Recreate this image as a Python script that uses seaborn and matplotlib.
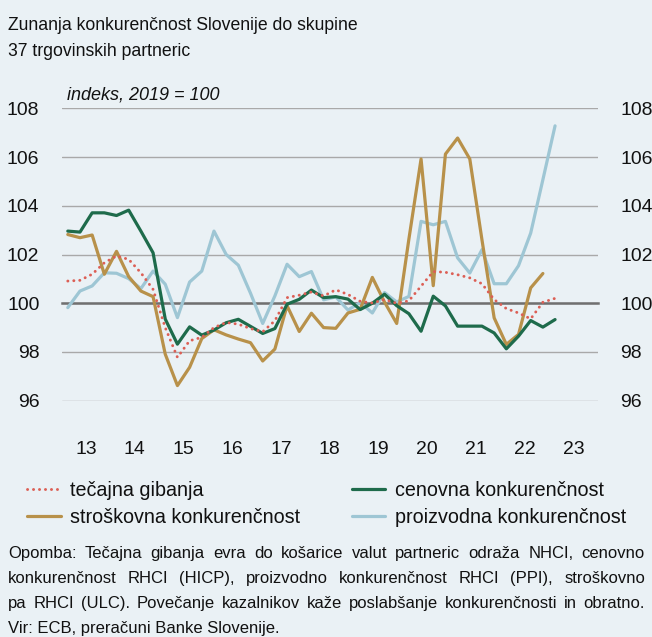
import numpy as np
import pandas as pd
import matplotlib
matplotlib.use("Agg")
import matplotlib.pyplot as plt
import matplotlib.font_manager as fm
import seaborn as sns

# ---------------- data (quarterly, 2013Q1 .. 2023Q1) ----------------
quarters = pd.period_range("2013Q1", "2023Q1", freq="Q")

tecajna = [100.91, 100.94, 101.19, 101.66,
           101.94, 101.80, 101.25, 100.57,
           99.00, 97.78, 98.46, 98.60,
           99.00, 99.21, 99.14, 98.96,
           98.83, 99.28, 100.23, 100.33,
           100.46, 100.30, 100.55, 100.36,
           100.08, 100.01, 100.15, 100.00,
           100.10, 100.70, 101.30, 101.27,
           101.17, 101.04, 100.80, 100.15,
           99.78, 99.60, 99.36, 100.04,
           100.20]

cenovna = [102.96, 102.92, 103.71, 103.71,
           103.60, 103.82, 102.96, 102.07,
           99.35, 98.32, 99.03, 98.69,
           98.90, 99.20, 99.34, 99.05,
           98.76, 98.96, 99.96, 100.16,
           100.54, 100.23, 100.27, 100.17,
           99.74, 100.00, 100.37, 99.90,
           99.57, 98.85, 100.29, 99.89,
           99.06, 99.06, 99.06, 98.78,
           98.13, 98.65, 99.29, 99.02,
           99.33]

stroskovna = [102.82, 102.69, 102.80, 101.19,
              102.13, 101.09, 100.50, 100.27,
              97.91, 96.62, 97.37, 98.55,
              98.91, 98.70, 98.53, 98.38,
              97.63, 98.12, 99.90, 98.84,
              99.59, 99.00, 98.97, 99.60,
              99.75, 101.06, 100.05, 99.17,
              102.63, 105.92, 100.72, 106.12,
              106.78, 105.92, 102.60, 99.40,
              98.31, 98.72, 100.63, 101.22,
              np.nan]

proizvodna = [99.82, 100.50, 100.71, 101.25,
              101.23, 101.01, 100.60, 101.32,
              100.78, 99.41, 100.87, 101.32,
              102.96, 102.00, 101.56, 100.41,
              99.17, 100.30, 101.60, 101.09,
              101.30, 100.14, 100.26, 99.72,
              100.03, 99.60, 100.44, 100.05,
              100.28, 103.36, 103.22, 103.36,
              101.86, 101.24, 102.20, 100.80,
              100.80, 101.54, 102.88, 105.07,
              107.28]

labels = ["tečajna gibanja", "stroškovna konkurenčnost",
          "cenovna konkurenčnost", "proizvodna konkurenčnost"]
year_labels = ["13", "14", "15", "16", "17", "18", "19", "20", "21", "22", "23"]
y_ticks = [96, 98, 100, 102, 104, 106, 108]

title_lines = ["Zunanja konkurenčnost Slovenije do skupine",
               "37 trgovinskih partneric"]
unit_text = "indeks, 2019 = 100"
note_lines = [
    "Opomba: Tečajna gibanja evra do košarice valut partneric odraža NHCI, cenovno",
    "konkurenčnost RHCI (HICP), proizvodno konkurenčnost RHCI (PPI), stroškovno",
    "pa RHCI (ULC). Povečanje kazalnikov kaže poslabšanje konkurenčnosti in obratno.",
    "Vir: ECB, preračuni Banke Slovenije.",
]

# ---------------- style ----------------
BG = "#EAF1F5"
C_RED = "#DC5F55"
C_GREEN = "#1E6B4B"
C_GOLD = "#B8914A"
C_BLUE = "#9EC6D4"
TXT = "#111111"

sns.set_style("white")
names = {f.name for f in fm.fontManager.ttflist}
if "Liberation Sans Narrow" in names:
    FONT = "Liberation Sans Narrow"
    S = 1.0
else:
    FONT = "Liberation Sans"
    S = 0.82
plt.rcParams["font.family"] = [FONT, "DejaVu Sans"]

W, H = 652, 637
fig = plt.figure(figsize=(W / 100, H / 100), dpi=100, facecolor=BG)

def fx(px):
    return px / W

def fy(py):
    return 1 - py / H

ax_l, ax_r, ax_t, ax_b = 61.7, 597.7, 108.3, 400.7
ax = fig.add_axes([fx(ax_l), fy(ax_b), fx(ax_r - ax_l), (ax_b - ax_t) / H])
ax.set_facecolor(BG)

df = pd.DataFrame({
    "kvartal": quarters,
    "tecajna": tecajna,
    "cenovna": cenovna,
    "stroskovna": stroskovna,
    "proizvodna": proizvodna,
})
df["t"] = df["kvartal"].dt.year + (df["kvartal"].dt.quarter - 0.5) / 4

series = [
    ("proizvodna", "proizvodna konkurenčnost", C_BLUE, "-"),
    ("stroskovna", "stroškovna konkurenčnost", C_GOLD, "-"),
    ("cenovna", "cenovna konkurenčnost", C_GREEN, "-"),
    ("tecajna", "tečajna gibanja", C_RED, ":"),
]
for col, lab, colr, ls in series:
    d = df[["t", col]].dropna()
    if ls == ":":
        sns.lineplot(data=d, x="t", y=col, ax=ax, color=colr, linewidth=2.1,
                     linestyle=(0, (0.05, 2.0)), dash_capstyle="round",
                     label=lab, zorder=5)
    else:
        sns.lineplot(data=d, x="t", y=col, ax=ax, color=colr, linewidth=2.3,
                     label=lab, zorder=4)

ax.set_xlim(2013, 2024)
ax.set_ylim(96, 108)
ax.set_xlabel("")
ax.set_ylabel("")

# y axis: labels left, grid
ax.set_yticks(y_ticks)
ax.set_yticklabels([str(v) for v in y_ticks])
ax.tick_params(axis="y", length=0, labelleft=True, labelright=False,
               labelsize=17 * S, pad=16, colors=TXT)
ax.yaxis.grid(True, color="#A9A9A9", linewidth=1.0, zorder=0)
ax.xaxis.grid(False)
for s in ["left", "right", "top"]:
    ax.spines[s].set_visible(False)
ax.spines["bottom"].set_position(("data", 100))
ax.spines["bottom"].set_color("#707070")
ax.spines["bottom"].set_linewidth(1.8)
ax.spines["bottom"].set_zorder(2)

# right-hand labels
ax2 = ax.twinx()
ax2.set_ylim(96, 108)
ax2.set_yticks(y_ticks)
ax2.set_yticklabels([str(v) for v in y_ticks])
ax2.tick_params(axis="y", length=0, labelsize=17 * S, pad=16.5, colors=TXT)
for s in ax2.spines.values():
    s.set_visible(False)
ax2.grid(False)

years = list(range(2013, 2025))
ax.set_xticks(years)
ax.set_xticklabels([""] * len(years))
ax.tick_params(axis="x", direction="out", length=5, width=1.1, color="#444444")

sec = ax.secondary_xaxis("bottom")
sec.set_xticks([2013.5 + i for i in range(len(year_labels))])
sec.set_xticklabels(year_labels)
sec.tick_params(length=0, pad=29, labelsize=17 * S, colors=TXT)
sec.spines["bottom"].set_visible(False)

# legend
handles, labs = ax.get_legend_handles_labels()
order = [labs.index(l) for l in labels]
leg = ax.legend([handles[i] for i in order], [labs[i] for i in order],
                ncol=2, loc="upper left",
                bbox_to_anchor=(fx(27), fy(481)), bbox_transform=fig.transFigure,
                frameon=False, fontsize=14.2, handlelength=1.7,
                handletextpad=0.5, columnspacing=2.6, labelspacing=0.4,
                borderpad=0, borderaxespad=0)
for t in leg.get_texts():
    t.set_color(TXT)

# titles
fig.text(fx(8), fy(30), title_lines[0], fontsize=15.5 * S, va="baseline",
         ha="left", color=TXT)
fig.text(fx(8), fy(56.5), title_lines[1], fontsize=15.5 * S, va="baseline",
         ha="left", color=TXT)
fig.text(fx(67), fy(100), unit_text, fontsize=13, style="italic",
         va="baseline", ha="left", color=TXT)

# footnote (justified)
fig.canvas.draw()
rend = fig.canvas.get_renderer()

def measure(s, size):
    t = fig.text(0, 0, s, fontsize=size)
    w = t.get_window_extent(rend).width
    t.remove()
    return w

def put_line(text, base_y, size, justify):
    x0, x1 = 8, 645
    if not justify:
        fig.text(fx(x0), fy(base_y), text, fontsize=size, va="baseline",
                 ha="left", color=TXT)
        return
    words = text.split(" ")
    sp = measure("a a", size) - measure("aa", size)
    widths = [measure(w, size) for w in words]
    total = sum(widths)
    gap = (x1 - x0 - total) / (len(words) - 1)
    if gap < 0.3 * sp:
        size = size * (x1 - x0 - 0.3 * sp * (len(words) - 1)) / total
        widths = [measure(w, size) for w in words]
        total = sum(widths)
        gap = (x1 - x0 - total) / (len(words) - 1)
    x = x0
    for w, wd in zip(words, widths):
        fig.text(fx(x), fy(base_y), w, fontsize=size, va="baseline",
                 ha="left", color=TXT)
        x += wd + gap

for i, (line, by) in enumerate(zip(note_lines, [558, 583, 608, 632.5])):
    put_line(line, by, 12.0, justify=(i < len(note_lines) - 1))

fig.savefig("out.png", dpi=100, facecolor=BG)
